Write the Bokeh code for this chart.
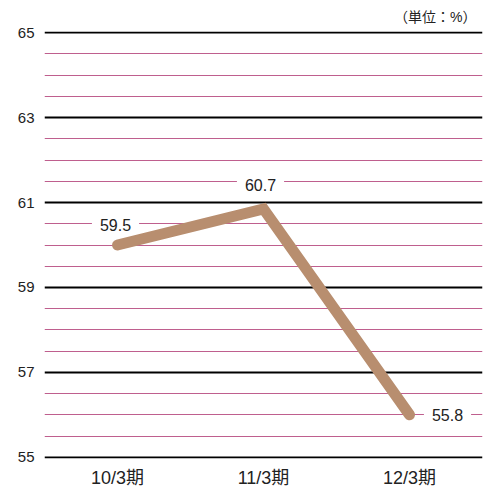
from bokeh.plotting import figure
from bokeh.models import Range1d, FixedTicker, Label
from bokeh.embed import file_html
from bokeh.resources import INLINE

categories = ["10/3期", "11/3期", "12/3期"]
plotted = [60.0, 60.85, 56.0]
value_labels = ["59.5", "60.7", "55.8"]
major_ticks = [55, 57, 59, 61, 63, 65]
minor_ticks = [55.5, 56, 56.5, 57.5, 58, 58.5, 59.5, 60, 60.5,
               61.5, 62, 62.5, 63.5, 64, 64.5]
unit_text = "（単位：%）"

FONT = "'Liberation Sans', Arial, 'Noto Sans CJK JP'"

p = figure(width=495, height=490, x_range=categories,
           y_range=Range1d(54.97, 65.03),
           output_backend="svg", toolbar_location=None,
           min_border_left=44, min_border_right=13,
           min_border_top=12, min_border_bottom=22)
p.outline_line_color = None
p.background_fill_color = "white"

p.title.text = unit_text
p.title.align = "right"
p.title.offset = 6
p.title.text_font = FONT
p.title.text_font_size = "14px"
p.title.text_font_style = "normal"
p.title.text_color = "#222222"
p.title.standoff = 13

p.xgrid.grid_line_color = None
p.ygrid.ticker = FixedTicker(ticks=major_ticks, minor_ticks=minor_ticks)
p.ygrid.grid_line_color = "black"
p.ygrid.grid_line_width = 2
p.ygrid.minor_grid_line_color = "#bf5f8e"
p.ygrid.minor_grid_line_width = 1.2

p.yaxis.ticker = FixedTicker(ticks=major_ticks)
p.yaxis.axis_line_color = None
p.yaxis.major_tick_line_color = None
p.yaxis.minor_tick_line_color = None
p.yaxis.major_label_standoff = 4
p.yaxis.major_label_text_font = FONT
p.yaxis.major_label_text_font_size = "15px"
p.yaxis.major_label_text_color = "#222222"

p.xaxis.axis_line_color = None
p.xaxis.major_tick_line_color = None
p.xaxis.minor_tick_line_color = None
p.xaxis.major_label_standoff = 3
p.xaxis.major_label_text_font = FONT
p.xaxis.major_label_text_font_size = "18px"
p.xaxis.major_label_text_color = "#222222"

p.line(categories, plotted, line_color="#b88e6f", line_width=11,
       line_cap="round", line_join="miter")

offsets = [(-2, 20), (-3, 24), (38, 0)]
for i, (txt, v) in enumerate(zip(value_labels, plotted)):
    dx, dy = offsets[i]
    p.add_layout(Label(x=i + 0.5, y=v, text=txt, x_offset=dx, y_offset=dy,
                       text_align="center", text_baseline="middle",
                       text_font=FONT, text_font_size="16px",
                       text_color="#222222",
                       background_fill_color="white",
                       padding=dict(left=8, right=8, top=1, bottom=1)))

open("out.html", "w").write(file_html(p, INLINE))
